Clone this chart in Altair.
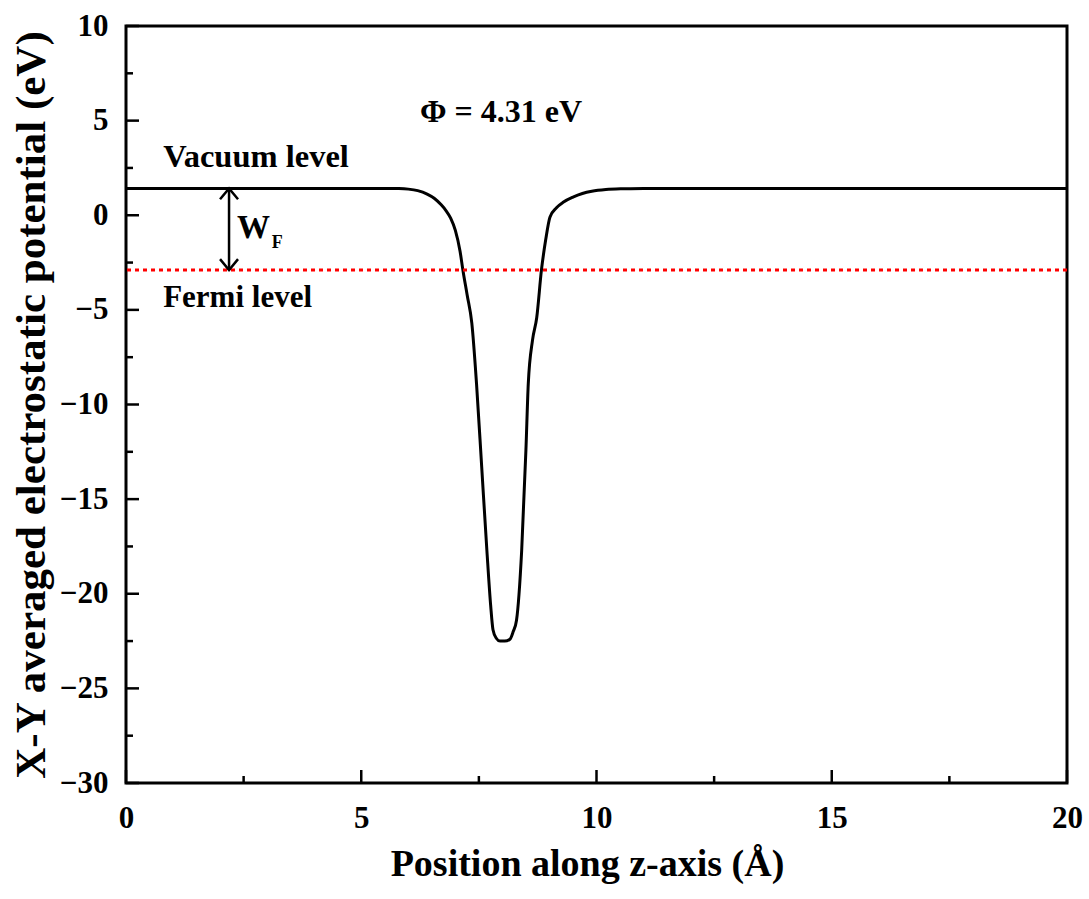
import altair as alt
import pandas as pd

# ---- data ----
z_pos = [0, 2, 4, 5.5, 5.8, 6.0, 6.2, 6.4, 6.55, 6.7, 6.8, 6.9, 7.0, 7.1, 7.16, 7.25,
         7.35, 7.45, 7.56, 7.67, 7.75, 7.8, 7.87, 7.95, 8.05, 8.16, 8.23, 8.3, 8.41,
         8.5, 8.55, 8.64, 8.73, 8.83, 8.92, 9.01, 9.15, 9.3, 9.5, 9.7, 9.9, 10.2,
         10.6, 11.0, 14, 17, 20]
potential = [1.42, 1.42, 1.42, 1.42, 1.41, 1.38, 1.3, 1.12, 0.9, 0.55, 0.25, -0.15,
             -0.8, -1.9, -2.89, -4.2, -5.7, -8.9, -13.3, -17.7, -20.6, -21.9, -22.35,
             -22.5, -22.5, -22.4, -22.0, -21.4, -17.7, -12.4, -8.9, -6.6, -5.4, -2.89,
             -1.3, -0.1, 0.4, 0.7, 0.96, 1.15, 1.27, 1.36, 1.4, 1.42, 1.42, 1.42, 1.42]

VACUUM = 1.42
FERMI = -2.89
ARROW_Z = 2.19

x_major = [0, 5, 10, 15, 20]
x_minor = [2.5, 7.5, 12.5, 17.5]
y_major = [-30, -25, -20, -15, -10, -5, 0, 5, 10]
y_minor = [-27.5, -22.5, -17.5, -12.5, -7.5, -2.5, 2.5, 7.5]

ann_text = ["\u03a6 = 4.31 eV", "Vacuum level", "Fermi level", "W", "F"]
ann_z = [6.25, 0.79, 0.79, 2.36, 3.10]
ann_v = [4.93, 2.55, -4.85, -1.2, -1.73]
ann_size = [32, 32.5, 31, 33, 18]

W, H = 941, 757
FONT = "Liberation Serif"

xs = alt.Scale(domain=[0, 20], nice=False, zero=False)
ys = alt.Scale(domain=[-30, 10], nice=False, zero=False)

x_axis = alt.Axis(
    title="Position along z-axis (\u00c5)", values=x_major, ticks=False, tickSize=0,
    domain=False, grid=False, labelFlush=False, labelOverlap=False,
    labelFont=FONT, labelFontWeight="bold", labelFontSize=31, labelColor="black",
    labelPadding=20, titleFont=FONT, titleFontWeight="bold", titleFontSize=38,
    titleColor="black", titlePadding=12, titleX=461)
y_axis = alt.Axis(
    title="X-Y averaged electrostatic potential (eV)", values=y_major, ticks=False,
    tickSize=0, domain=False, grid=False, labelFlush=False, labelOverlap=False,
    labelFont=FONT, labelFontWeight="bold", labelFontSize=31, labelColor="black",
    labelPadding=18, titleFont=FONT, titleFontWeight="bold", titleFontSize=43,
    titleColor="black", titlePadding=6)


def X():
    return alt.X("z:Q", scale=xs, axis=x_axis)


def Y():
    return alt.Y("v:Q", scale=ys, axis=y_axis)


curve_df = pd.DataFrame({"z": z_pos, "v": potential})
curve = alt.Chart(curve_df).mark_line(
    color="black", strokeWidth=3, interpolate="monotone").encode(x=X(), y=Y())

fermi = alt.Chart(pd.DataFrame({"v": [FERMI]})).mark_rule(
    color="red", strokeWidth=3, strokeDash=[4, 4]).encode(y=Y())

arrow_df = pd.DataFrame({"z": [ARROW_Z], "v": [VACUUM], "v2": [FERMI]})
arrow = alt.Chart(arrow_df).mark_rule(color="black", strokeWidth=2.5).encode(
    x=X(), y=Y(), y2="v2:Q")
head_top = alt.Chart(pd.DataFrame({"z": [ARROW_Z], "v": [VACUUM]})).mark_point(
    shape="M-1,1.2L0,0L1,1.2", filled=False, stroke="black", strokeWidth=2.5, size=324,
    opacity=1).encode(x=X(), y=Y())
head_bot = alt.Chart(pd.DataFrame({"z": [ARROW_Z], "v": [FERMI]})).mark_point(
    shape="M-1,-1.2L0,0L1,-1.2", filled=False, stroke="black", strokeWidth=2.5, size=324,
    opacity=1).encode(x=X(), y=Y())

ann_df = pd.DataFrame({"t": ann_text, "z": ann_z, "v": ann_v, "s": ann_size})
ann = alt.Chart(ann_df).mark_text(
    align="left", baseline="alphabetic", font=FONT, fontWeight="bold", color="black").encode(
    x=X(), y=Y(), text="t:N", size=alt.Size("s:Q", scale=None, legend=None))


def yticks(vals, length):
    return alt.Chart(pd.DataFrame({"v": vals})).mark_rule(color="black", strokeWidth=2.5).encode(
        y=Y(), x=alt.value(0), x2=alt.value(length))


def xticks(vals, length):
    return alt.Chart(pd.DataFrame({"z": vals})).mark_rule(color="black", strokeWidth=2.5).encode(
        x=X(), y=alt.value(H), y2=alt.value(H - length))


chart = alt.layer(
    curve, fermi, arrow, head_top, head_bot, ann,
    yticks(y_major, 13), yticks(y_minor, 7), xticks(x_major, 13), xticks(x_minor, 7),
).properties(
    width=W, height=H,
    autosize=alt.AutoSizeParams(type="none"),
    padding={"left": 126, "top": 26, "right": 22, "bottom": 116},
    background="white",
).configure_view(stroke="black", strokeWidth=3)

chart.save("out.html", embed_options={"renderer": "svg", "actions": False})
